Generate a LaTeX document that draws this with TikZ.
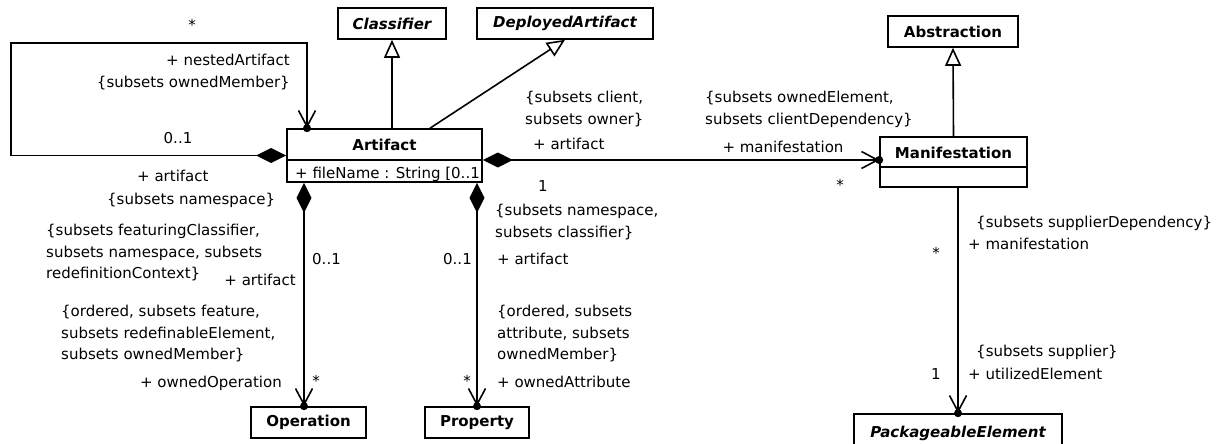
\documentclass[tikz,border=0pt]{standalone}
\usepackage{fontspec}
\setmainfont{DejaVu Sans}
\usetikzlibrary{arrows.meta,calc}
\begin{document}
\begin{tikzpicture}[x=1pt,y=-1pt,
  every node/.style={font=\fontsize{15}{21.7}\selectfont},
  cls/.style={draw, line width=1.6pt, inner sep=0pt, font=\fontsize{15}{18}\selectfont\bfseries},
  abscls/.style={cls, font=\fontsize{15}{18}\selectfont\bfseries\itshape},
  txt/.style={inner sep=0pt},
  lbl/.style={inner sep=0pt, align=left, execute at begin node=\strut},
  conn/.style={line width=1.6pt},
  compnav/.style={{Diamond[length=30pt,width=15pt]}-{Straight Barb[length=16pt,width=17pt]}},
  nav/.style={-{Straight Barb[length=16pt,width=17pt]}},
  gen/.style={-{Triangle[open,length=18pt,width=16pt,fill=white]}},
  owndot/.style={fill=black},
]
\useasboundingbox (0,0) rectangle (1218,444);

% classes
\node[abscls, minimum width=108pt, minimum height=31pt] (clf) at (392,23.5) {Classifier};
\node[abscls, minimum width=176pt, minimum height=31pt] (dep) at (565,23.5) {DeployedArtifact};
\node[cls, minimum width=130pt, minimum height=31pt] (abs) at (953,31.5) {Abstraction};
\node[cls, minimum width=195pt, minimum height=53pt] (art) at (384.5,155.5) {};
\node[txt, font=\fontsize{15}{18}\selectfont\bfseries] (artname) at (384.5,145) {Artifact};
\draw[line width=1.6pt] ($(art.north west)+(0,32)$) -- ($(art.north east)+(0,32)$);
\begin{scope}
  \clip (art.north west) rectangle (art.south east);
  \node[txt, anchor=base west] (attr) at (295,178) {+ fileName : String [0..1]};
\end{scope}
\node[cls, minimum width=147pt, minimum height=50pt] (man) at (953.5,162) {};
\node[txt, font=\fontsize{15}{18}\selectfont\bfseries] (manname) at (953.5,153) {Manifestation};
\draw[line width=1.6pt] ($(man.north west)+(0,31)$) -- ($(man.north east)+(0,31)$);
\node[cls, minimum width=115pt, minimum height=31pt] (op) at (308.5,422.5) {Operation};
\node[cls, minimum width=104pt, minimum height=31pt] (prop) at (477,422.5) {Property};
\node[abscls, minimum width=208pt, minimum height=38pt] (pe) at (958,433) {PackageableElement};

% helper coordinates
\coordinate (loopx) at (307,0);
\coordinate (depx) at (430,0);
\coordinate (ry) at (0,160);
\coordinate (opx) at (304,0);
\coordinate (l1c) at (11,155.5);
\coordinate (l2c) at (11,43);
\coordinate (l3c) at (307,43);

% generalizations
\draw[conn, gen] (art.north -| clf.south) -- (clf.south);
\draw[conn, gen] (art.north -| depx) -- (dep.south);
\draw[conn, gen] (man.north) -- (abs.south);

% associations
\draw[conn, compnav] (art.west) -- (l1c) -- (l2c) -- (l3c) -- (art.north -| loopx);
\fill[owndot] (art.north -| loopx) circle (4pt);
\draw[conn, compnav] (art.east |- ry) -- (man.west |- ry);
\fill[owndot] (man.west |- ry) circle (4pt);
\draw[conn, compnav] (art.south -| opx) -- (op.north -| opx);
\fill[owndot] (op.north -| opx) circle (4pt);
\draw[conn, compnav] (art.south -| prop.north) -- (prop.north);
\fill[owndot] (prop.north) circle (4pt);
\draw[conn, nav] (man.south -| pe.north) -- (pe.north);
\fill[owndot] (pe.north) circle (4pt);

% labels: nested artifact loop
\node[txt, anchor=base] (m1) at (192,31) {*};
\node[lbl, align=right, anchor=north east] (l1) at (290,54) {+ nestedArtifact\\\{subsets ownedMember\}};
\node[txt, anchor=base] (m2) at (178,143) {0..1};
\node[txt, anchor=base west] (l2) at (137,181) {+ artifact};
\node[txt, anchor=base west] (l3) at (107,204) {\{subsets namespace\}};

% labels: artifact - manifestation
\node[lbl, anchor=north west] (l4) at (525,91) {\{subsets client,\\subsets owner\}};
\node[txt, anchor=base west] (l5) at (533,149) {+ artifact};
\node[txt, anchor=base] (m3) at (543,191) {1};
\node[lbl, anchor=north west] (l6) at (705,91) {\{subsets ownedElement,\\subsets clientDependency\}};
\node[txt, anchor=base] (l7) at (783,152) {+ manifestation};
\node[txt, anchor=base] (m4) at (840,190) {*};

% labels: manifestation - packageable element
\node[txt, anchor=base west] (l8) at (976,227) {\{subsets supplierDependency\}};
\node[txt, anchor=base west] (l9) at (968,249) {+ manifestation};
\node[txt, anchor=base] (m5) at (936,258) {*};
\node[txt, anchor=base west] (l10) at (976,356) {\{subsets supplier\}};
\node[txt, anchor=base west] (l11) at (968,379) {+ utilizedElement};
\node[txt, anchor=base] (m6) at (936,379) {1};

% labels: operation
\node[lbl, anchor=north west] (l12) at (46,224) {\{subsets featuringClassifier,\\subsets namespace, subsets\\redefinitionContext\}};
\node[txt, anchor=base east] (l13) at (296,285) {+ artifact};
\node[txt, anchor=base west] (m7) at (312,264) {0..1};
\node[lbl, anchor=north west] (l14) at (61,305) {\{ordered, subsets feature,\\subsets redefinableElement,\\subsets ownedMember\}};
\node[txt, anchor=base east] (l15) at (282,387) {+ ownedOperation};
\node[txt, anchor=base] (m8) at (316,386) {*};

% labels: property
\node[lbl, anchor=north west] (l16) at (495,204) {\{subsets namespace,\\subsets classifier\}};
\node[txt, anchor=base west] (l17) at (497,264) {+ artifact};
\node[txt, anchor=base east] (m9) at (472,264) {0..1};
\node[lbl, anchor=north west] (l18) at (497,305) {\{ordered, subsets\\attribute, subsets\\ownedMember\}};
\node[txt, anchor=base west] (l19) at (497,387) {+ ownedAttribute};
\node[txt, anchor=base] (m10) at (467,386) {*};
\end{tikzpicture}
\end{document}
